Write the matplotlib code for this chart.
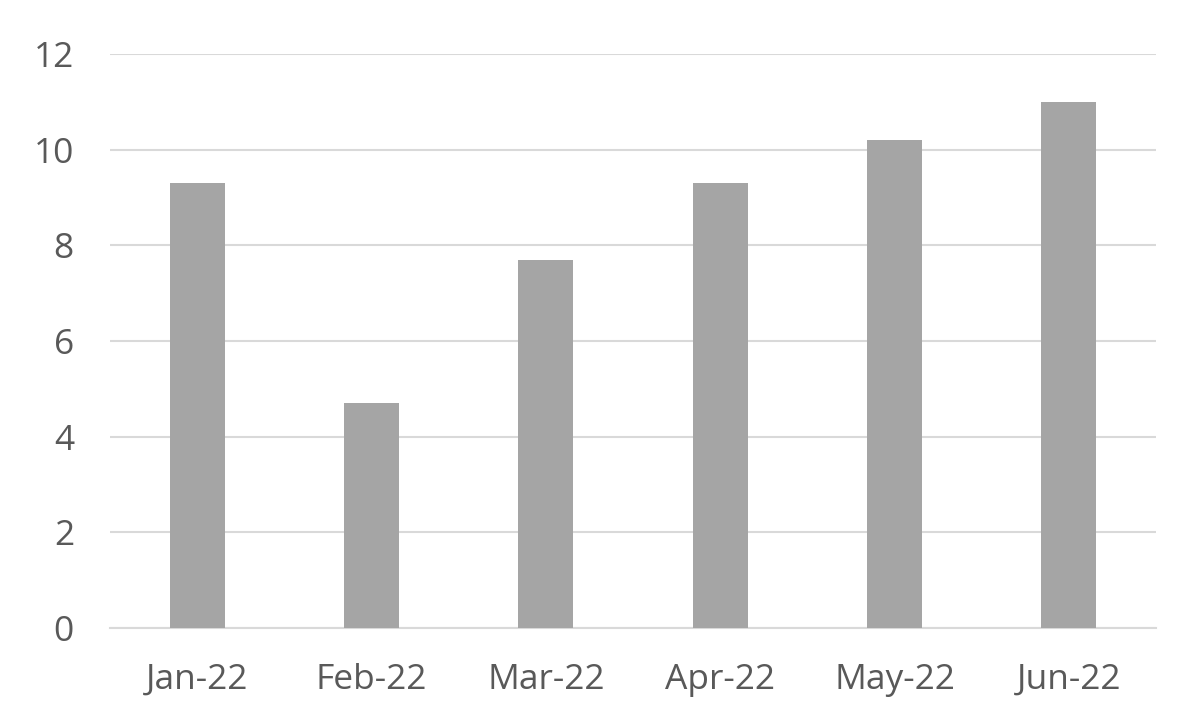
import matplotlib
matplotlib.use("Agg")
import matplotlib.pyplot as plt

categories = ["Jan-22", "Feb-22", "Mar-22", "Apr-22", "May-22", "Jun-22"]
values = [9.3, 4.7, 7.7, 9.3, 10.2, 11.0]
yticks = [0, 2, 4, 6, 8, 10, 12]

plt.rcParams['font.family'] = ['Open Sans', 'DejaVu Sans']

fig = plt.figure(figsize=(11.96, 7.26), dpi=100)
ax = fig.add_axes([110/1196, 1 - 628/726, (1156-110)/1196, (628-54)/726])

x = list(range(len(categories)))
ax.bar(x, values, width=0.315, color="#A5A5A5", zorder=3)

ax.set_xlim(-0.5, len(categories) - 0.5)
ax.set_ylim(0, 12)
ax.set_yticks(yticks)
ax.set_yticklabels([str(t) for t in yticks])
ax.set_xticks(x)
ax.set_xticklabels(categories)

ax.grid(axis="y", color="#D9D9D9", linewidth=1.5, zorder=0)
for s in ["top", "right", "left"]:
    ax.spines[s].set_visible(False)
ax.spines["bottom"].set_color("#D9D9D9")
ax.spines["bottom"].set_linewidth(1.5)
ax.tick_params(axis="both", length=0, labelsize=25.5, labelcolor="#595959")
ax.tick_params(axis="y", pad=26)
ax.tick_params(axis="x", pad=25)

fig.savefig("out.png", dpi=100, facecolor="white")
